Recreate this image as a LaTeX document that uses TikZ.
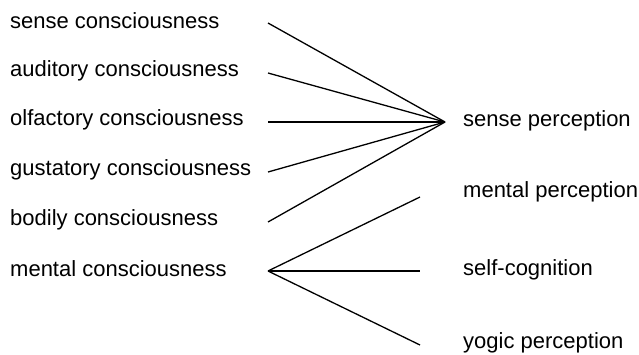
\documentclass[tikz,border=0pt]{standalone}
\usepackage{fontspec}
\setmainfont{Liberation Sans}
\begin{document}
\begin{tikzpicture}[x=1pt,y=-1pt,
  lbl/.style={anchor=west,inner sep=0pt,font=\fontsize{22}{26}\selectfont},
  conn/.style={line width=1.3pt,line join=miter}]
\useasboundingbox (0,0) rectangle (639,354);
% left labels
\node[lbl] (l1) at (10,21) {sense consciousness};
\node[lbl] (l2) at (10,71) {auditory consciousness};
\node[lbl] (l3) at (10,120) {olfactory consciousness};
\node[lbl] (l4) at (10,170) {gustatory consciousness};
\node[lbl] (l5) at (10,220) {bodily consciousness};
\node[lbl] (l6) at (10,269) {mental consciousness};
% right labels
\node[lbl] (r1) at (463,121) {sense perception};
\node[lbl] (r2) at (463,192) {mental perception};
\node[lbl] (r3) at (463,270) {self-cognition};
\node[lbl] (r4) at (463,343) {yogic perception};
% connector end points
\coordinate (a1) at (268,23);
\coordinate (a2) at (268,73);
\coordinate (a3) at (268,122);
\coordinate (a4) at (268,172);
\coordinate (a5) at (268,222);
\coordinate (m) at (268,271);
\coordinate (s) at (445,122);
\coordinate (b2) at (420,197);
\coordinate (b3) at (420,271);
\coordinate (b4) at (420,345);
\draw[conn] (a1) -- (s);
\draw[conn] (a2) -- (s);
\draw[conn] (a3) -- (s);
\draw[conn] (a4) -- (s);
\draw[conn] (a5) -- (s);
\draw[conn] (m) -- (b2);
\draw[conn] (m) -- (b3);
\draw[conn] (m) -- (b4);
\end{tikzpicture}
\end{document}
